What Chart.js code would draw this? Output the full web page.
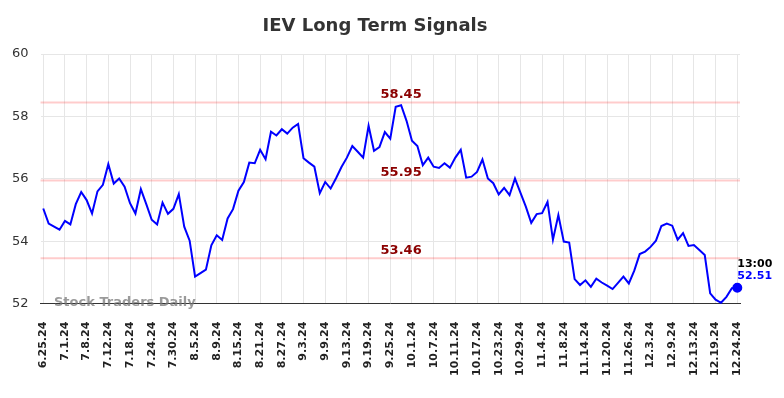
<!DOCTYPE html>
<html>
<head>
<meta charset="utf-8">
<script src="https://cdn.jsdelivr.net/npm/chart.js@4/dist/chart.umd.min.js"></script>
<style>
  html, body { margin: 0; padding: 0; background: #fff; }
  #wrap { width: 784px; height: 398px; }
</style>
</head>
<body>
<div id="wrap"><canvas id="myChart"></canvas></div>
<script>
const chartTitle = 'IEV Long Term Signals';

const tickLabels = ['6.25.24', '7.1.24', '7.8.24', '7.12.24', '7.18.24', '7.24.24', '7.30.24', '8.5.24',
	'8.9.24', '8.15.24', '8.21.24', '8.27.24', '9.3.24', '9.9.24', '9.13.24', '9.19.24', '9.25.24',
	'10.1.24', '10.7.24', '10.11.24', '10.17.24', '10.23.24', '10.29.24', '11.4.24', '11.8.24',
	'11.14.24', '11.20.24', '11.26.24', '12.3.24', '12.9.24', '12.13.24', '12.19.24', '12.24.24'];

// daily closes, one per trading day (a tick label every 4th day)
const prices = [
	55.05, 54.57, 54.47, 54.37, 54.65, 54.54, 55.19, 55.58, 55.32, 54.89,
	55.60, 55.81, 56.47, 55.85, 56.01, 55.75, 55.22, 54.89, 55.67, 55.19,
	54.69, 54.54, 55.24, 54.88, 55.04, 55.51, 54.47, 54.02, 52.87, 52.98,
	53.09, 53.87, 54.19, 54.04, 54.73, 55.03, 55.62, 55.90, 56.52, 56.50,
	56.93, 56.63, 57.51, 57.39, 57.59, 57.45, 57.64, 57.76, 56.66, 56.52,
	56.39, 55.54, 55.90, 55.69, 56.02, 56.38, 56.68, 57.05, 56.87, 56.68,
	57.70, 56.90, 57.02, 57.50, 57.29, 58.31, 58.36, 57.86, 57.22, 57.05,
	56.44, 56.68, 56.39, 56.35, 56.50, 56.36, 56.68, 56.93, 56.04, 56.07,
	56.22, 56.62, 56.01, 55.86, 55.50, 55.71, 55.48, 56.01, 55.56, 55.11,
	54.59, 54.87, 54.90, 55.26, 54.05, 54.84, 53.99, 53.96, 52.79, 52.60,
	52.75, 52.54, 52.80, 52.68, 52.58, 52.47, 52.67, 52.87, 52.65, 53.06,
	53.59, 53.67, 53.82, 54.02, 54.49, 54.57, 54.50, 54.05, 54.26, 53.85,
	53.88, 53.72, 53.56, 52.33, 52.13, 52.03, 52.22, 52.50, 52.51
];

const signalLevels = [58.45, 55.95, 53.46];
const lastTime = '13:00';
const yTicks = [52, 54, 56, 58, 60];

Chart.defaults.font.family = "'DejaVu Sans', sans-serif";

const points = prices.map((v, i) => ({ x: i, y: v }));

const overlay = {
	id: 'overlay',
	beforeDatasetsDraw(chart) {
		const { ctx, chartArea, scales } = chart;
		ctx.save();
		ctx.strokeStyle = 'rgba(255, 0, 0, 0.2)';
		ctx.lineWidth = 2;
		signalLevels.forEach((lvl) => {
			const y = scales.y.getPixelForValue(lvl);
			ctx.beginPath();
			ctx.moveTo(chartArea.left, y);
			ctx.lineTo(chartArea.right, y);
			ctx.stroke();
		});
		// watermark
		ctx.fillStyle = 'rgba(120, 120, 120, 0.75)';
		ctx.font = "bold 13px 'DejaVu Sans'";
		ctx.textAlign = 'left';
		ctx.textBaseline = 'middle';
		ctx.fillText('Stock Traders Daily', 54, chartArea.bottom - 1);
		ctx.restore();
	},
	afterDatasetsDraw(chart) {
		const { ctx, scales } = chart;
		ctx.save();
		ctx.font = "bold 13px 'DejaVu Sans'";
		ctx.fillStyle = '#8b0000';
		ctx.textAlign = 'center';
		ctx.textBaseline = 'bottom';
		const lx = scales.x.getPixelForValue(66);
		signalLevels.forEach((lvl) => {
			ctx.fillText(lvl.toFixed(2), lx, scales.y.getPixelForValue(lvl) - 1);
		});
		// last point label
		const li = prices.length - 1;
		const px = scales.x.getPixelForValue(li);
		const py = scales.y.getPixelForValue(prices[li]);
		ctx.font = "bold 11px 'DejaVu Sans'";
		ctx.textAlign = 'left';
		ctx.textBaseline = 'middle';
		ctx.fillStyle = '#000';
		ctx.fillText(lastTime, px, py - 24);
		ctx.fillStyle = '#0000ff';
		ctx.fillText(prices[li].toFixed(2), px, py - 12);
		// title
		ctx.font = "bold 18px 'DejaVu Sans'";
		ctx.fillStyle = '#333';
		ctx.textAlign = 'center';
		ctx.fillText(chartTitle, 375, 26);
		ctx.restore();
	}
};

const config = {
	type: 'line',
	data: {
		datasets: [
			{
				label: 'IEV',
				data: points,
				borderColor: '#0000ff',
				backgroundColor: '#0000ff',
				borderWidth: 2,
				tension: 0,
				fill: false,
				clip: false,
				pointRadius: prices.map((v, i) => (i === prices.length - 1 ? 4 : 0)),
				pointHoverRadius: 0,
			},
		],
	},
	options: {
		responsive: true,
		maintainAspectRatio: false,
		animation: false,
		layout: { padding: { top: 54, right: 44, left: 0, bottom: 4 } },
		plugins: {
			legend: { display: false },
			tooltip: { enabled: false },
			title: { display: false },
		},
		scales: {
			x: {
				type: 'linear',
				min: -0.5,
				max: prices.length - 0.5,
				afterBuildTicks: (axis) => {
					axis.ticks = tickLabels.map((t, i) => ({ value: i * 4 }));
				},
				ticks: {
					autoSkip: false,
					maxRotation: 90,
					minRotation: 90,
					padding: 18,
					color: '#222',
					font: { size: 11, weight: 'bold' },
					callback: (v) => tickLabels[v / 4],
				},
				grid: { color: '#e6e6e6', drawTicks: false },
				border: { color: '#333', width: 1 },
			},
			y: {
				min: 52,
				max: 60,
				afterBuildTicks: (axis) => {
					axis.ticks = yTicks.map((v) => ({ value: v }));
				},
				ticks: { color: '#333', font: { size: 13 }, padding: 12 },
				grid: { color: '#e6e6e6', drawTicks: false },
				border: { display: false },
			},
		},
	},
	plugins: [overlay],
};

const myChart = new Chart(document.getElementById('myChart'), config);
</script>
</body>
</html>
